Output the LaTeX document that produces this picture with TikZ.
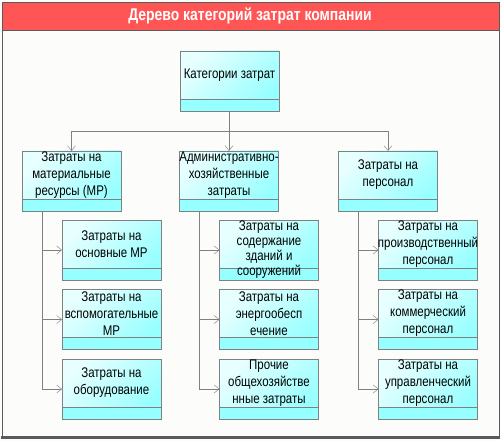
\documentclass[tikz,border=0pt]{standalone}
\usepackage{fontspec}
\setmainfont{Liberation Sans}[FakeStretch=0.82]
\usetikzlibrary{arrows.meta,positioning}

\definecolor{headred}{RGB}{255,85,85}
\definecolor{paper}{RGB}{252,252,250}
\definecolor{framegray}{RGB}{90,90,90}
\definecolor{linegray}{RGB}{128,128,128}
\definecolor{boxlight}{RGB}{232,255,255}
\definecolor{boxcyan}{RGB}{150,255,255}

\begin{document}
\begin{tikzpicture}[x=1pt,y=-1pt,
  box/.style={draw=linegray, minimum width=99pt, minimum height=60pt,
    inner sep=0pt, outer sep=0pt,
    top color=boxlight, bottom color=boxcyan, shading angle=45,
    path picture={
      \fill[boxcyan] (path picture bounding box.south west) rectangle
        ([yshift=12pt]path picture bounding box.south east);
      \draw[linegray] ([yshift=12pt]path picture bounding box.south west) --
        ([yshift=12pt]path picture bounding box.south east);}},
  txt/.style={align=center, inner sep=0pt, font=\fontsize{14}{17}\selectfont},
  conn/.style={draw=linegray, -{Straight Barb[length=5pt,width=8pt]}}]

\useasboundingbox (0,0) rectangle (501,441);

%% frame and header
\fill[paper] (0,0) rectangle (501,441);
\draw[framegray] (2,2) rectangle (499,437);
\draw[framegray, line width=2.5pt] (1,437.5) -- (500,437.5);
\filldraw[fill=headred, draw=framegray] (2,2) rectangle (499,30);
\node[font=\bfseries\fontsize{17}{20}\selectfont, text=white] (title) at (250,16)
  {Дерево категорий затрат компании};

%% root
\node[box] (root) at (229.5,81) {};
\node[txt] (root-t) at ([yshift=6pt]root) {Категории затрат};

%% first level
\node[box] (mr) at (71.5,181) {};
\node[box, right=58.5pt of mr] (ahz) {};
\node[box, right=60pt of ahz] (pers) {};
\node[txt] (mr-t) at ([yshift=6pt]mr) {Затраты на\\материальные\\ресурсы (МР)};
\node[txt] (ahz-t) at ([yshift=6pt]ahz) {Административно-\\хозяйственные\\затраты};
\node[txt] (pers-t) at ([yshift=6pt]pers) {Затраты на\\персонал};

\draw[conn] (root.south) -- ++(0,20) -| (mr.north);
\draw[conn] (root.south) -- ++(0,20) -| (ahz.north);
\draw[conn] (root.south) -- ++(0,20) -| (pers.north);

%% material resources
\node[box, below=9pt of mr.south west, anchor=north west, xshift=40pt] (mr1) {};
\node[box, below=9.5pt of mr1] (mr2) {};
\node[box, below=9.5pt of mr2] (mr3) {};
\node[txt] (mr1-t) at ([yshift=6pt]mr1) {Затраты на\\основные МР};
\node[txt] (mr2-t) at ([yshift=6pt]mr2) {Затраты на\\вспомогательные\\МР};
\node[txt] (mr3-t) at ([yshift=6pt]mr3) {Затраты на\\оборудование};

%% administrative
\node[box, below=9pt of ahz.south west, anchor=north west, xshift=40pt] (ahz1) {};
\node[box, below=9.5pt of ahz1] (ahz2) {};
\node[box, below=9.5pt of ahz2] (ahz3) {};
\node[txt, font=\fontsize{14}{15}\selectfont] (ahz1-t) at (ahz1)
  {Затраты на\\содержание\\зданий и\\сооружений};
\node[txt] (ahz2-t) at ([yshift=6pt]ahz2) {Затраты на\\энергообесп\\ечение};
\node[txt] (ahz3-t) at ([yshift=6pt]ahz3) {Прочие\\общехозяйстве\\нные затраты};

%% personnel
\node[box, below=9pt of pers.south west, anchor=north west, xshift=40pt] (pers1) {};
\node[box, below=9.5pt of pers1] (pers2) {};
\node[box, below=9.5pt of pers2] (pers3) {};
\node[txt] (pers1-t) at ([yshift=6pt]pers1) {Затраты на\\производственный\\персонал};
\node[txt] (pers2-t) at ([yshift=6pt]pers2) {Затраты на\\коммерческий\\персонал};
\node[txt] (pers3-t) at ([yshift=6pt]pers3) {Затраты на\\управленческий\\персонал};

\foreach \p in {mr,ahz,pers} {
  \foreach \c in {1,2,3}
    \draw[conn] ([xshift=20pt]\p.south west) |- (\p\c.west);
}

\end{tikzpicture}
\end{document}
